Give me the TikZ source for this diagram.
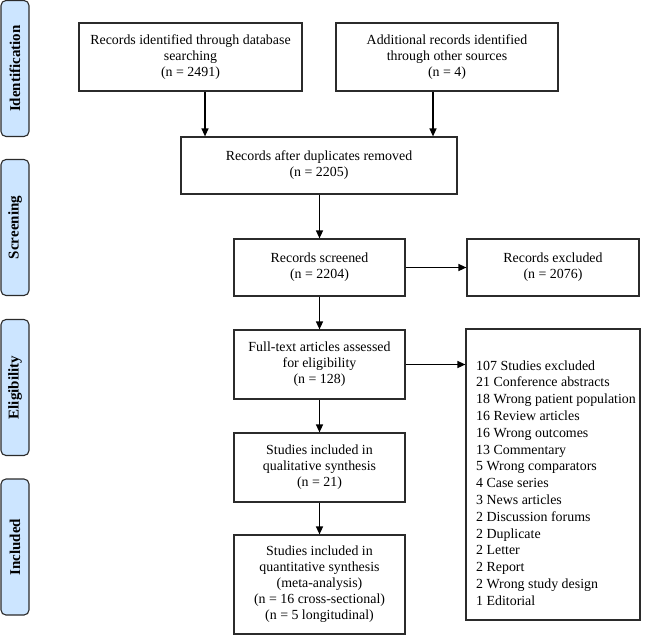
\documentclass[tikz,border=0pt]{standalone}
\usepackage{fontspec}
\setmainfont{Liberation Serif}
\usetikzlibrary{arrows.meta}
\definecolor{labfill}{HTML}{CCE5FF}
\definecolor{edge}{HTML}{2B2B2B}
\begin{document}
\begin{tikzpicture}[x=1pt,y=-1pt,
  box/.style={draw=edge,line width=1.2pt,rectangle,inner sep=0pt,align=center,
    font=\fontsize{13.9}{16}\selectfont},
  phase/.style={draw=edge,fill=labfill,line width=1.1pt,rounded corners=5pt,
    inner sep=0pt,minimum width=28pt,minimum height=136pt},
  phasetxt/.style={rotate=90,font=\fontsize{15}{17}\selectfont\bfseries},
  arr/.style={draw=black,line width=1.3pt,-{Triangle[length=8pt,width=7pt]}}]
\useasboundingbox (0,0) rectangle (650,635);
% phase labels
\node[phase] (pid) at (15,68.5) {};
\node[phasetxt] (tid) at (pid.center) {Identification};
\node[phase] (psc) at (15,227.5) {};
\node[phasetxt] (tsc) at (psc.center) {Screening};
\node[phase] (pel) at (15,387.5) {};
\node[phasetxt] (tel) at (pel.center) {Eligibility};
\node[phase] (pin) at (15,547) {};
\node[phasetxt] (tin) at (pin.center) {Included};
% boxes
\node[box,minimum width=223pt,minimum height=68pt] (id1) at (190.5,57)
  {Records identified through database\\searching\\(n = 2491)};
\node[box,minimum width=222pt,minimum height=68pt] (id2) at (447,57)
  {Additional records identified\\through other sources\\(n = 4)};
\node[box,minimum width=276pt,minimum height=57pt] (dup) at (319,165.5)
  {Records after duplicates removed\\(n = 2205)};
\node[box,minimum width=171pt,minimum height=57pt] (scr) at (319.5,267.5)
  {Records screened\\(n = 2204)};
\node[box,minimum width=172pt,minimum height=57pt] (exc) at (553,267.5)
  {Records excluded\\(n = 2076)};
\node[box,minimum width=171pt,minimum height=69pt] (full) at (319.5,364.5)
  {Full-text articles assessed\\for eligibility\\(n = 128)};
\node[box,minimum width=174pt,minimum height=291pt] (lst) at (553,474.5) {};
\node[anchor=west,inner sep=0pt,align=left,font=\fontsize{13.9}{16.8}\selectfont]
  (lsttxt) at (476,483) {107 Studies excluded\\21 Conference abstracts\\18 Wrong patient population\\16 Review articles\\16 Wrong outcomes\\13 Commentary\\5 Wrong comparators\\4 Case series\\3 News articles\\2 Discussion forums\\2 Duplicate\\2 Letter\\2 Report\\2 Wrong study design\\1 Editorial};
\node[box,minimum width=171pt,minimum height=69pt] (qual) at (319.5,467.5)
  {Studies included in\\qualitative synthesis\\(n = 21)};
\node[box,minimum width=171pt,minimum height=99pt] (quant) at (319.5,584.5)
  {Studies included in\\quantitative synthesis\\(meta-analysis)\\(n = 16 cross-sectional)\\(n = 5 longitudinal)};
% arrows
\coordinate (a1) at (205,0);
\coordinate (a2) at (433,0);
\draw[arr] (a1 |- id1.south) -- (a1 |- dup.north);
\draw[arr] (a2 |- id2.south) -- (a2 |- dup.north);
\draw[arr] (scr.north |- dup.south) -- (scr.north);
\draw[arr] (scr.east) -- (exc.west);
\draw[arr] (scr.south) -- (full.north);
\draw[arr] (full.east) -- (full.east -| lst.west);
\draw[arr] (full.south) -- (qual.north);
\draw[arr] (qual.south) -- (quant.north);
\end{tikzpicture}
\end{document}
